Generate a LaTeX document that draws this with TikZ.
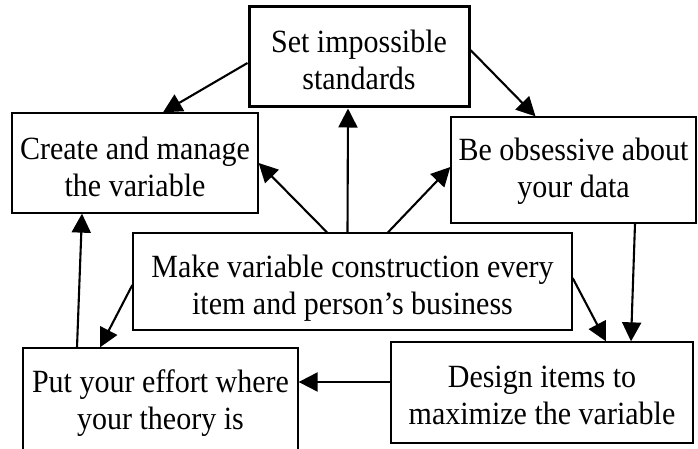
\documentclass[tikz,border=0pt]{standalone}
\usepackage{graphicx}
\usepackage{fontspec}
\setmainfont{Liberation Serif}
\usetikzlibrary{arrows.meta}
% two-line label, slightly tall letters, lowered by #1 inside its box
\newcommand\boxtext[2]{\raisebox{-#1}[\height][\depth]{\scalebox{1}[1.08]{%
  \fontsize{30}{34.3}\selectfont\begin{tabular}{@{}c@{}}#2\end{tabular}}}}
\begin{document}
\begin{tikzpicture}[x=1pt,y=-1pt,
  box/.style={draw=black, line width=1.3pt, inner sep=0pt, align=center},
  thickbox/.style={box, line width=3pt},
  link/.style={line width=2.1pt, -{Triangle[length=19pt,width=19pt]}}]
\clip (0,0) rectangle (698,449);
\fill[white] (0,0) rectangle (698,449);
% boxes
\node[thickbox, minimum width=220pt, minimum height=100pt] (set) at (359,57)
  {\boxtext{7pt}{Set impossible\\standards}};
\node[box, minimum width=246pt, minimum height=100pt] (create) at (135,163)
  {\boxtext{8pt}{Create and manage\\the variable}};
\node[box, minimum width=245pt, minimum height=106pt] (obs) at (573.5,170)
  {\boxtext{2pt}{Be obsessive about\\your data}};
\node[box, minimum width=439pt, minimum height=97pt] (make) at (352.5,281.5)
  {\boxtext{7pt}{Make variable construction every\\item and person’s business}};
\node[box, minimum width=275pt, minimum height=112pt] (put) at (160.5,404)
  {\boxtext{0pt}{Put your effort where\\your theory is}};
\node[box, minimum width=302pt, minimum height=101pt] (design) at (542,392.5)
  {\boxtext{6pt}{Design items to\\maximize the variable}};
% connectors
\draw[link] ([yshift=-6pt]set.west) -- ([xshift=28pt]create.north);
\draw[link] ([yshift=7pt]set.east) -- ([xshift=-38pt]obs.north);
\draw[link] ([xshift=-5pt]make.north) -- ([xshift=-11pt]set.south);
\draw[link] ([xshift=-25.5pt]make.north) -- (create.east);
\draw[link] ([xshift=35.5pt]make.north) -- ([yshift=3pt]obs.west);
\draw[link] ([yshift=-3.5pt]make.west) -- ([xshift=-60.5pt]put.north);
\draw[link] ([yshift=3.5pt]make.east) -- ([xshift=64pt]design.north);
\draw[link] ([xshift=61.5pt]obs.south) -- ([xshift=89pt]design.north);
\draw[link] ([yshift=10.5pt]design.west) -- ([yshift=22pt]put.east);
\draw[link] ([xshift=-83.5pt]put.north) -- ([xshift=-53pt]create.south);
\end{tikzpicture}
\end{document}
